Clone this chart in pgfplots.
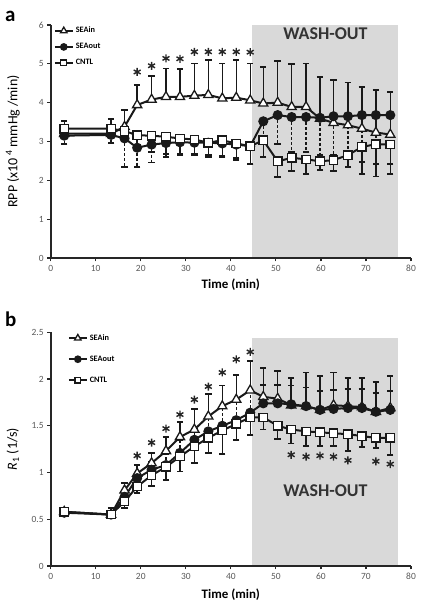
\documentclass[border=0pt]{standalone}
\usepackage{fontspec}
\setmainfont{Carlito}
\usepackage{pgfplots}
\pgfplotsset{compat=1.18}
\begin{document}
\begin{tikzpicture}
\useasboundingbox (0bp,0bp) rectangle (426bp,609bp);
\pgfplotsset{
  myax/.style={
    scale only axis, width=360.3bp,
    xmin=0, xmax=80, ymin=0,
    axis x line*=bottom, axis y line*=left,
    axis line style={line width=1.6bp, black!85, -},
    tick align=outside, major tick length=3.5bp,
    tick style={line width=1.2bp, black!85},
    xtick={0,10,...,80},
    tick label style={font=\fontsize{9.5}{10}\selectfont, text=black!65},
    /pgf/number format/assume math mode=true,
    axis on top,
    clip=false,
    legend cell align=left,
    legend image code/.code={
      \draw[##1, mark=none] (0bp,0bp) -- (18bp,0bp);
      \path[##1, only marks, every mark/.append style={scale=0.7}] plot coordinates {(9bp,0bp)};
    },
  },
  ebar/.style={forget plot, only marks, mark=none,
    error bars/.cd, y dir=#1, y explicit, error mark=|,
    error bar style={line width=1.4bp, black!90, solid},
    error mark options={line width=1.8bp, black!90, mark size=3.2bp, solid}},
  dbar/.style={forget plot, only marks, mark=none,
    error bars/.cd, y dir=#1, y explicit, error mark=|,
    error bar style={line width=1.4bp, black!90, dash pattern=on 3bp off 2bp},
    error mark options={line width=1.8bp, black!90, mark size=3.2bp, solid}},
  sin/.style={black!90, line width=2bp, mark=triangle*, mark size=5.3bp, mark options={fill=white, line width=1.3bp, solid}},
  sout/.style={black!90, line width=2bp, mark=*, mark size=4bp, mark options={fill=black!90, solid}},
  cntl/.style={black!90, line width=2bp, mark=square*, mark size=4.2bp, mark options={fill=white, line width=1.3bp, solid}},
  star/.style={forget plot, only marks, mark=asterisk, mark size=4bp, black!85, mark options={line width=1.4bp}},
}

% ---------------- panel a ----------------
\begin{axis}[myax, at={(50.7bp,351bp)}, anchor=south west,
  height=233bp, ymax=6, ytick={0,1,...,6},
  xlabel={\bfseries Time (min)},
  xlabel style={font=\fontsize{13}{14}\selectfont, at={(axis description cs:0.5,-0.115)}, anchor=center},
  ylabel={RPP (x10\,\textsuperscript{4} mmHg /min)},
  ylabel style={font=\fontsize{14}{15}\selectfont, at={(axis description cs:-0.105,0.5)}, anchor=center},
  legend style={at={(axis description cs:0.008,1.0)}, anchor=north west, draw=none, fill=none,
    font=\bfseries\fontsize{8.3}{9}\selectfont, row sep=5bp, inner sep=0pt},
]
\addplot[draw=none, fill=black!15, forget plot] coordinates {(44.8,6) (77.2,6)} \closedcycle;
\node[font=\bfseries\fontsize{18}{20}\selectfont, text=black!80] at (axis cs:61,5.78) {WASH-OUT};

% SEAin upward bars
\addplot[ebar=plus] coordinates {
(16.4,3.38) +- (0,0.43) (19.2,3.94) +- (0,0.51) (22.4,4.08) +- (0,0.61) (25.6,4.15) +- (0,0.73)
(28.7,4.15) +- (0,0.71) (31.9,4.18) +- (0,0.83) (35.0,4.20) +- (0,0.90) (38.1,4.11) +- (0,0.90)
(41.2,4.13) +- (0,0.97) (44.3,4.06) +- (0,0.95) (47.2,3.98) +- (0,0.94) (50.4,4.00) +- (0,1.07)
(53.5,3.89) +- (0,1.10) (56.7,3.89) +- (0,1.12) (59.8,3.59) +- (0,1.08) (62.8,3.48) +- (0,1.10)
(66.0,3.42) +- (0,1.10) (69.1,3.33) +- (0,1.08) (72.2,3.23) +- (0,1.09) (75.4,3.18) +- (0,1.10)};
% SEAout downward dashed bars
\addplot[dbar=minus] coordinates {
(3,3.15) +- (0,0.22) (13.4,3.17) +- (0,0.20) (16.4,3.08) +- (0,0.73) (19.2,2.84) +- (0,0.49)
(22.4,2.92) +- (0,0.46) (25.6,2.96) +- (0,0.36) (28.7,2.98) +- (0,0.34) (31.9,2.97) +- (0,0.33)
(35.0,2.97) +- (0,0.37) (38.1,2.95) +- (0,0.35) (41.2,2.92) +- (0,0.35) (44.3,2.88) +- (0,0.45)
(47.2,3.52) +- (0,0.45) (50.4,3.68) +- (0,0.75) (53.5,3.63) +- (0,0.90) (56.7,3.63) +- (0,0.90)
(59.8,3.61) +- (0,0.96) (62.8,3.65) +- (0,1.00) (66.0,3.65) +- (0,1.00) (69.1,3.68) +- (0,1.20)
(72.2,3.68) +- (0,1.25) (75.4,3.68) +- (0,1.25)};
% CNTL bars
\addplot[ebar=plus] coordinates {(3,3.33) +- (0,0.19) (13.4,3.33) +- (0,0.24)};
\addplot[ebar=minus] coordinates {
(16.4,3.27) +- (0,0.27) (19.2,3.16) +- (0,0.36) (22.4,3.15) +- (0,0.43) (25.6,3.12) +- (0,0.44)
(28.7,3.08) +- (0,0.40) (31.9,3.05) +- (0,0.37) (35.0,2.97) +- (0,0.32) (38.1,3.03) +- (0,0.40)
(41.2,2.95) +- (0,0.43) (44.3,2.88) +- (0,0.45) (47.2,3.03) +- (0,0.43) (50.4,2.49) +- (0,0.40)
(53.5,2.58) +- (0,0.34) (56.7,2.54) +- (0,0.38) (59.8,2.49) +- (0,0.23) (62.8,2.52) +- (0,0.28)
(66.0,2.65) +- (0,0.30) (69.1,2.86) +- (0,0.69) (72.2,2.93) +- (0,0.83) (75.4,2.92) +- (0,0.76)};

\addplot[sin] coordinates {
(3,3.20) (13.4,3.20) (16.4,3.38) (19.2,3.94) (22.4,4.08) (25.6,4.15) (28.7,4.15) (31.9,4.18)
(35.0,4.20) (38.1,4.11) (41.2,4.13) (44.3,4.06) (47.2,3.98) (50.4,4.00) (53.5,3.89) (56.7,3.89)
(59.8,3.59) (62.8,3.48) (66.0,3.42) (69.1,3.33) (72.2,3.23) (75.4,3.18)};
\addlegendentry{SEAin}
\addplot[sout] coordinates {
(3,3.15) (13.4,3.17) (16.4,3.08) (19.2,2.84) (22.4,2.92) (25.6,2.96) (28.7,2.98) (31.9,2.97)
(35.0,2.97) (38.1,2.95) (41.2,2.92) (44.3,2.88) (47.2,3.52) (50.4,3.68) (53.5,3.63) (56.7,3.63)
(59.8,3.61) (62.8,3.65) (66.0,3.65) (69.1,3.68) (72.2,3.68) (75.4,3.68)};
\addlegendentry{SEAout}
\addplot[cntl] coordinates {
(3,3.33) (13.4,3.33) (16.4,3.27) (19.2,3.16) (22.4,3.15) (25.6,3.12) (28.7,3.08) (31.9,3.05)
(35.0,2.97) (38.1,3.03) (41.2,2.95) (44.3,2.88) (47.2,3.03) (50.4,2.49) (53.5,2.58) (56.7,2.54)
(59.8,2.49) (62.8,2.52) (66.0,2.65) (69.1,2.86) (72.2,2.93) (75.4,2.92)};
\addlegendentry{CNTL}

\addplot[star] coordinates {(19.2,4.79) (22.4,4.95) (25.6,5.14) (28.7,5.13) (31.9,5.31) (35.0,5.31) (38.1,5.31) (41.2,5.31) (44.3,5.30)};
\end{axis}

% ---------------- panel b ----------------
\begin{axis}[myax, at={(50.7bp,43bp)}, anchor=south west,
  height=233.7bp, ymax=2.5, ytick={0,0.5,...,2.5},
  xlabel={\bfseries Time (min)},
  xlabel style={font=\fontsize{13}{14}\selectfont, at={(axis description cs:0.5,-0.124)}, anchor=center},
  ylabel={\textit{R}\textsubscript{1} (1/s)},
  ylabel style={font=\fontsize{14}{15}\selectfont, at={(axis description cs:-0.105,0.5)}, anchor=center},
  legend style={at={(axis description cs:0.047,1.0)}, anchor=north west, draw=none, fill=none,
    font=\bfseries\fontsize{8.3}{9}\selectfont, row sep=10bp, inner sep=0pt},
]
\addplot[draw=none, fill=black!15, forget plot] coordinates {(44.8,2.435) (77.2,2.435)} \closedcycle;
\node[font=\bfseries\fontsize{18}{20}\selectfont, text=black!80] at (axis cs:61,0.81) {WASH-OUT};

% SEAin upward bars
\addplot[ebar=plus] coordinates {
(13.4,0.55) +- (0,0.07) (16.4,0.81) +- (0,0.08) (19.2,0.99) +- (0,0.09) (22.4,1.10) +- (0,0.11)
(25.6,1.23) +- (0,0.15) (28.7,1.38) +- (0,0.16) (31.9,1.46) +- (0,0.22) (35.0,1.60) +- (0,0.24)
(38.1,1.71) +- (0,0.22) (41.2,1.78) +- (0,0.26) (44.3,1.88) +- (0,0.31) (47.2,1.81) +- (0,0.31)
(50.4,1.79) +- (0,0.30) (53.4,1.72) +- (0,0.29) (56.7,1.71) +- (0,0.36) (59.8,1.67) +- (0,0.36)
(62.8,1.72) +- (0,0.35) (66.0,1.71) +- (0,0.30) (69.1,1.70) +- (0,0.31) (72.2,1.65) +- (0,0.32)
(75.4,1.69) +- (0,0.34)};
% SEAout upward dashed bars
\addplot[dbar=plus] coordinates {
(16.4,0.74) +- (0,0.06) (19.2,0.94) +- (0,0.06) (22.4,1.03) +- (0,0.08) (25.6,1.08) +- (0,0.12)
(28.7,1.21) +- (0,0.14) (31.9,1.35) +- (0,0.12) (35.0,1.44) +- (0,0.16) (38.1,1.50) +- (0,0.20)
(41.2,1.56) +- (0,0.22) (44.3,1.64) +- (0,0.24) (47.2,1.74) +- (0,0.20) (50.4,1.74) +- (0,0.20)
(53.4,1.73) +- (0,0.20) (56.7,1.71) +- (0,0.20) (59.8,1.67) +- (0,0.20) (62.8,1.68) +- (0,0.20)
(66.0,1.69) +- (0,0.20) (69.1,1.69) +- (0,0.20) (72.2,1.65) +- (0,0.20) (75.4,1.67) +- (0,0.20)};
% CNTL downward bars
\addplot[ebar=minus] coordinates {
(16.4,0.69) +- (0,0.07) (19.2,0.85) +- (0,0.07) (22.4,0.97) +- (0,0.11) (25.6,1.06) +- (0,0.14)
(28.7,1.17) +- (0,0.16) (31.9,1.28) +- (0,0.18) (35.0,1.37) +- (0,0.16) (38.1,1.45) +- (0,0.25)
(41.2,1.52) +- (0,0.17) (44.3,1.59) +- (0,0.19) (47.2,1.59) +- (0,0.13) (50.4,1.50) +- (0,0.14)
(53.4,1.46) +- (0,0.15) (56.7,1.44) +- (0,0.16) (59.8,1.43) +- (0,0.15) (62.8,1.42) +- (0,0.14)
(66.0,1.41) +- (0,0.18) (69.1,1.39) +- (0,0.12) (72.2,1.37) +- (0,0.11) (75.4,1.37) +- (0,0.18)};

\addplot[sin] coordinates {
(3,0.58) (13.4,0.55) (16.4,0.81) (19.2,0.99) (22.4,1.10) (25.6,1.23) (28.7,1.38) (31.9,1.46)
(35.0,1.60) (38.1,1.71) (41.2,1.78) (44.3,1.88) (47.2,1.81) (50.4,1.79) (53.4,1.72) (56.7,1.71)
(59.8,1.67) (62.8,1.72) (66.0,1.71) (69.1,1.70) (72.2,1.65) (75.4,1.69)};
\addlegendentry{SEAin}
\addplot[sout] coordinates {
(3,0.57) (13.4,0.55) (16.4,0.74) (19.2,0.94) (22.4,1.03) (25.6,1.08) (28.7,1.21) (31.9,1.35)
(35.0,1.44) (38.1,1.50) (41.2,1.56) (44.3,1.64) (47.2,1.74) (50.4,1.74) (53.4,1.73) (56.7,1.71)
(59.8,1.67) (62.8,1.68) (66.0,1.69) (69.1,1.69) (72.2,1.65) (75.4,1.67)};
\addlegendentry{SEAout}
\addplot[cntl] coordinates {
(3,0.58) (13.4,0.55) (16.4,0.69) (19.2,0.85) (22.4,0.97) (25.6,1.06) (28.7,1.17) (31.9,1.28)
(35.0,1.37) (38.1,1.45) (41.2,1.52) (44.3,1.59) (47.2,1.59) (50.4,1.50) (53.4,1.46) (56.7,1.44)
(59.8,1.43) (62.8,1.42) (66.0,1.41) (69.1,1.39) (72.2,1.37) (75.4,1.37)};
\addlegendentry{CNTL}

\addplot[star] coordinates {(19.2,1.18) (22.4,1.32) (25.6,1.47) (28.7,1.62) (31.9,1.78) (35.0,1.92) (38.1,2.07) (41.2,2.21) (44.3,2.29)
(53.4,1.19) (56.7,1.17) (59.8,1.18) (62.8,1.17) (66.0,1.13) (72.2,1.12) (75.4,1.09)};
\end{axis}

\node[anchor=base west, inner sep=0pt, font=\bfseries\fontsize{21}{22}\selectfont] at (5bp,587.5bp) {a};
\node[anchor=base west, inner sep=0pt, font=\bfseries\fontsize{21}{22}\selectfont] at (5bp,282.5bp) {b};
\end{tikzpicture}
\end{document}
